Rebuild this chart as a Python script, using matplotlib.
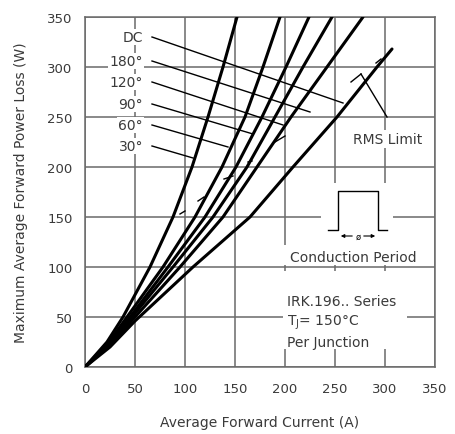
import matplotlib
matplotlib.use("Agg")
import matplotlib.pyplot as plt

# ---- data ----
power_levels = [0, 25, 50, 100, 150, 200, 250, 300, 350]
cur_30 = [0, 22, 38, 65, 88, 107, 123, 138, 152]
cur_60 = [0, 24, 42, 78, 110, 137, 160, 178, 195]
cur_90 = [0, 26, 45, 83, 120, 151, 177, 201, 224]
cur_120 = [0, 27, 47, 88, 128, 162, 190, 218, 247]
cur_180 = [0, 28, 50, 95, 138, 172, 206, 242, 278]
dc_power = [0, 20, 46, 100, 150, 200, 250, 300, 318]
cur_dc = [0, 25, 50, 108, 165, 208, 252, 292, 307]

labels = ["DC", "180°", "120°", "90°", "60°", "30°"]
label_y = [330, 306, 285, 263, 242, 221]
leader_end_x = [258, 225, 198, 168, 143, 108]
leader_end_y = [264, 255, 242, 233, 220, 209]

# RMS limit tick marks (start/end in data units)
rms_x0 = [95, 113, 139, 163, 190, 291]
rms_y0 = [153, 166, 188, 205, 225, 304]
rms_x1 = [100, 119, 148, 167, 200, 296]
rms_y1 = [156, 170, 191, 206, 231, 308]

xticks = [0, 50, 100, 150, 200, 250, 300, 350]
yticks = [0, 50, 100, 150, 200, 250, 300, 350]

TXT = "#3a3a3a"
GRID = "#6a6a6a"
plt.rcParams['font.family'] = ['DejaVu Sans']

fig = plt.figure(figsize=(4.56, 4.35), dpi=100)
ax = fig.add_axes([85/456, 67/435, 350/456, 350/435])
ax.set_xlim(0, 350)
ax.set_ylim(0, 350)
ax.set_xticks(xticks)
ax.set_yticks(yticks)
ax.tick_params(length=0, labelsize=9.5, colors=TXT)
ax.tick_params(axis="x", pad=11)
ax.tick_params(axis="y", pad=9)
ax.grid(True, color=GRID, lw=1.1)
ax.set_axisbelow(True)
for s in ax.spines.values():
    s.set_color(GRID)
    s.set_linewidth(1.1)

ax.set_xlabel("Average Forward Current (A)", fontsize=10, color=TXT, labelpad=14)
ax.set_ylabel("Maximum Average Forward Power Loss (W)", fontsize=10, color=TXT, labelpad=14)

# curves
for cur in [cur_30, cur_60, cur_90, cur_120, cur_180]:
    ax.plot(cur, power_levels, color="black", lw=2.2, zorder=5, solid_capstyle="round")
ax.plot(cur_dc, dc_power, color="black", lw=2.2, zorder=5, solid_capstyle="round")

# labels and leaders
for lab, ly, ex, ey in zip(labels, label_y, leader_end_x, leader_end_y):
    ax.text(58, ly, lab, ha="right", va="center", fontsize=10, color=TXT, zorder=4,
            bbox=dict(facecolor="white", edgecolor="none", pad=0.8))
    ax.plot([67, ex], [ly, ey], color="black", lw=1.0, zorder=4)

# RMS ticks
for a, b, c, d in zip(rms_x0, rms_y0, rms_x1, rms_y1):
    ax.plot([a, c], [b, d], color="black", lw=1.0, zorder=4)

# RMS limit label and arrow
ax.text(303, 228, "RMS Limit", ha="center", va="center", fontsize=10, color=TXT, zorder=4,
        bbox=dict(facecolor="white", edgecolor="none", pad=1.5))
ax.plot([302, 276], [250, 293], color="black", lw=1.0, zorder=4)
ax.plot([276, 266], [293, 285], color="black", lw=1.0, zorder=4)

# conduction period icon
ax.add_patch(plt.Rectangle((236, 122), 72, 62, facecolor="white", edgecolor="none", zorder=3))
ax.add_patch(plt.Rectangle((197, 102), 142, 20, facecolor="white", edgecolor="none", zorder=3))
ax.plot([243, 253, 253, 293, 293, 302], [137, 137, 176, 176, 137, 137], color="black", lw=1.0, zorder=4)
ax.annotate("", xy=(253, 131), xytext=(270, 131),
            arrowprops=dict(arrowstyle="-|>", color="black", lw=0.8, mutation_scale=5), zorder=4)
ax.annotate("", xy=(293, 131), xytext=(276, 131),
            arrowprops=dict(arrowstyle="-|>", color="black", lw=0.8, mutation_scale=5), zorder=4)
ax.text(273, 131, "ø", ha="center", va="center", fontsize=6, color="black", zorder=5)
ax.text(268, 110, "Conduction Period", ha="center", va="center", fontsize=10, color=TXT, zorder=4)

# info block
ax.add_patch(plt.Rectangle((198, 18), 124, 78, facecolor="white", edgecolor="none", zorder=3))
ax.text(202, 66, "IRK.196.. Series", ha="left", va="center", fontsize=10, color=TXT, zorder=4)
ax.text(202, 45, r"T$_{\rm J}$= 150°C", ha="left", va="center", fontsize=10, color=TXT, zorder=4)
ax.text(202, 25, "Per Junction", ha="left", va="center", fontsize=10, color=TXT, zorder=4)

fig.savefig("out.png", dpi=100)
